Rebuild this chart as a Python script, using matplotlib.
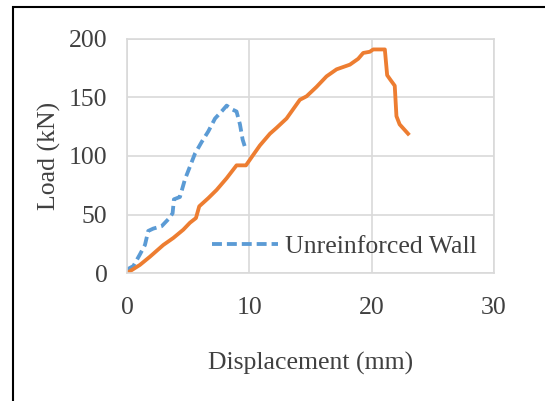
import matplotlib.pyplot as plt
from matplotlib.patches import Rectangle

# Unreinforced wall (dashed blue)
unr_disp = [0, 0.52, 1.06, 1.47, 1.74, 2.15, 2.83, 3.38, 3.73, 3.84, 4.33, 4.74, 5.15,
            5.56, 6.11, 6.65, 7.2, 7.82, 8.15, 8.56, 8.96, 9.24, 9.46, 9.73]
unr_load = [3, 6, 16, 24, 36, 38, 40, 46, 51, 63, 65, 80, 91,
            102, 112, 121, 132, 139, 143, 140, 138, 127, 114, 105]

# Reinforced wall (solid orange, not in legend)
rei_disp = [0, 1.06, 1.88, 2.97, 3.79, 4.6, 5.15, 5.64, 5.91, 6.65, 7.33, 8.15, 8.96,
            9.73, 10.33, 10.87, 11.69, 12.23, 13.05, 14.14, 14.69, 15.5, 16.32, 17.14,
            18.23, 18.91, 19.32, 19.86, 20.14, 21.09, 21.28, 21.55, 21.9, 22.04, 22.3, 22.99]
rei_load = [0, 7, 14, 24, 30, 37, 43, 47, 57, 64, 71, 81, 92,
            92, 101, 109, 119, 124, 132, 148, 151, 159, 168, 174,
            178, 183, 188, 189, 191, 191, 169, 165, 160, 134, 127, 119]

x_ticks = [0, 10, 20, 30]
y_ticks = [0, 50, 100, 150, 200]

plt.rcParams['font.family'] = ['Liberation Serif', 'DejaVu Serif']
FS = 18.5
TXT = '#404040'

fig = plt.figure(figsize=(5.45, 4.01), dpi=100)
ax = fig.add_axes([0.233, 0.319, 0.673, 0.584])

ax.plot(unr_disp, unr_load, color='#5B9BD5', lw=2.75, ls=(0, (2.6, 1.3)),
        label='Unreinforced Wall')
ax.plot(rei_disp, rei_load, color='#ED7D31', lw=2.75, label='_nolegend_')

ax.set_xlim(0, 30)
ax.set_ylim(0, 200)
ax.set_xticks(x_ticks)
ax.set_yticks(y_ticks)
ax.grid(True, color='#D9D9D9', lw=1.2)
ax.set_axisbelow(True)
for s in ax.spines.values():
    s.set_color('#D9D9D9')
    s.set_linewidth(1.2)
ax.tick_params(axis='x', length=0, labelsize=FS, colors=TXT, pad=17)
ax.tick_params(axis='y', length=0, labelsize=FS, colors=TXT, pad=14)
ax.set_xlabel('Displacement (mm)', fontsize=FS, color=TXT, labelpad=24)
ax.set_ylabel('Load (kN)', fontsize=FS, color=TXT, labelpad=6)

ax.legend(loc='center left', bbox_to_anchor=(0.232, 0.115), frameon=False,
          fontsize=FS, handlelength=2.57, handletextpad=0.27,
          borderaxespad=0, borderpad=0, labelcolor=TXT)

# outer frame
fig.patches.append(Rectangle((13 / 545, -0.1), 1.2, (401 - 7) / 401 + 0.1,
                             transform=fig.transFigure, fill=False,
                             edgecolor='black', lw=1.5))

fig.savefig('out.png', dpi=100)
